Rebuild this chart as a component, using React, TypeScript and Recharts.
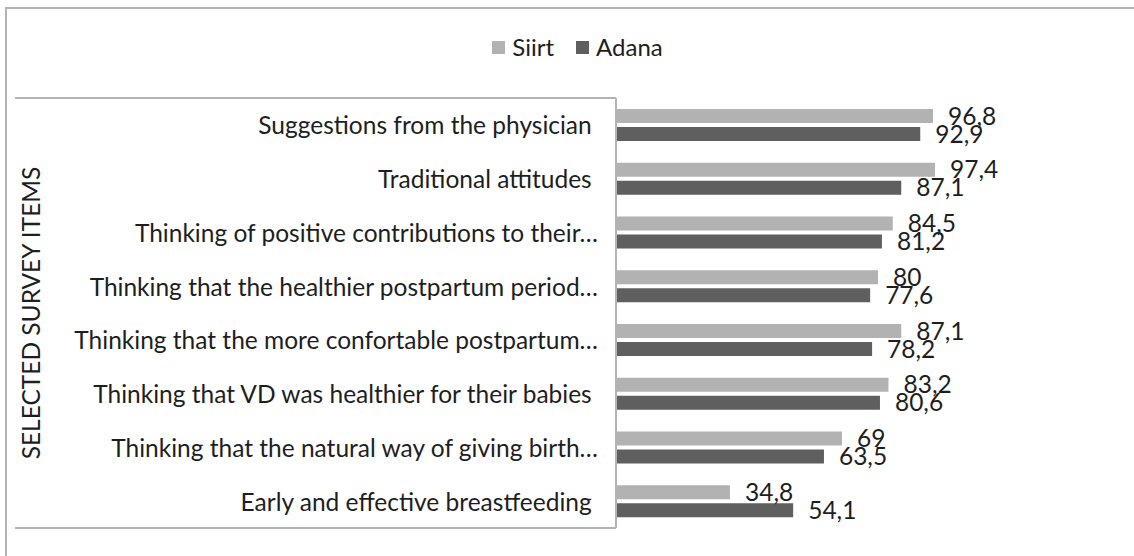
import React from 'react';
import { BarChart, Bar, XAxis, YAxis, Legend, LabelList } from 'recharts';

const categories = [
  'Suggestions from the physician ',
  'Traditional attitudes ',
  'Thinking of positive contributions to their…',
  'Thinking that the healthier postpartum period…',
  'Thinking that the more confortable postpartum…',
  'Thinking that VD was healthier for their babies ',
  'Thinking that the natural way of giving birth…',
  'Early and effective breastfeeding ',
];
const siirt = [96.8, 97.4, 84.5, 80, 87.1, 83.2, 69, 34.8];
const adana = [92.9, 87.1, 81.2, 77.6, 78.2, 80.6, 63.5, 54.1];
const seriesNames = ['Siirt', 'Adana'];
const axisTitle = 'SELECTED SURVEY ITEMS';

const data = categories.map((c, i) => ({ item: c, siirt: siirt[i], adana: adana[i] }));

const FONT = 'Lato, "Open Sans", sans-serif';
const FS = 24.5;
const fmt = (v: any) => String(v).replace('.', ',');

const CatTick = (props: any) => {
  const { x, y, payload } = props;
  return (
    <text x={x} y={y} textAnchor="end" dominantBaseline="central" fontFamily={FONT} fontSize={FS} fill="#1e1e1e" style={{ whiteSpace: 'pre' }}>
      {payload.value}
    </text>
  );
};

const LegendContent = (props: any) => {
  const items = [...(props.payload || [])].sort(
    (a: any, b: any) => seriesNames.indexOf(a.value) - seriesNames.indexOf(b.value)
  );
  return (
    <div style={{ display: 'flex', justifyContent: 'center', alignItems: 'center', fontFamily: FONT, fontSize: 24, lineHeight: '30px', color: '#1e1e1e' }}>
      {items.map((it: any, i: number) => (
        <div key={it.value} style={{ display: 'flex', alignItems: 'center', marginRight: i < items.length - 1 ? 22 : 0 }}>
          <span style={{ display: 'inline-block', width: 13, height: 13, background: it.color, marginRight: 7 }} />
          <span>{it.value}</span>
        </div>
      ))}
    </div>
  );
};

export default function App() {
  const W = 1134;
  const H = 556;
  const margin = { top: 98, right: 125, bottom: 28, left: 0 };
  const axisX = 616;
  return (
    <div style={{ position: 'fixed', left: 0, top: 0, width: W, height: H, background: '#fff', overflow: 'hidden' }}>
      <div style={{ position: 'absolute', left: 5, top: 7, width: 1300, height: 700, borderLeft: '2px solid #b3b3b3', borderTop: '2px solid #b3b3b3', boxSizing: 'border-box' }} />
      <div style={{ position: 'absolute', left: 0, top: 0 }}>
        <BarChart width={W} height={H} data={data} layout="vertical" margin={margin} barSize={14} barGap={4}>
          <XAxis type="number" domain={[0, 120]} hide />
          <YAxis
            type="category"
            dataKey="item"
            width={axisX}
            tickLine={false}
            tickSize={0}
            tickMargin={18}
            axisLine={{ stroke: '#b3b3b3', strokeWidth: 2 }}
            tick={<CatTick />}
            interval={0}
          />
          <Legend
            verticalAlign="middle"
            align="center"
            content={<LegendContent />}
            wrapperStyle={{ top: 32, left: 0, width: 1155 }}
          />
          <Bar dataKey="siirt" name={seriesNames[0]} fill="#b2b2b2" isAnimationActive={false}>
            <LabelList dataKey="siirt" position="right" offset={15} formatter={fmt} style={{ fontFamily: FONT, fontSize: FS, fill: '#1e1e1e' }} />
          </Bar>
          <Bar dataKey="adana" name={seriesNames[1]} fill="#5f5f5f" isAnimationActive={false}>
            <LabelList dataKey="adana" position="right" offset={15} formatter={fmt} style={{ fontFamily: FONT, fontSize: FS, fill: '#1e1e1e' }} />
          </Bar>
        </BarChart>
      </div>
      <svg style={{ position: 'absolute', left: 0, top: 0 }} width={W} height={H} pointerEvents="none">
        <line x1={15} x2={axisX} y1={margin.top} y2={margin.top} stroke="#b3b3b3" strokeWidth={2} />
        <line x1={15} x2={axisX} y1={H - margin.bottom} y2={H - margin.bottom} stroke="#b3b3b3" strokeWidth={2} />
        <text transform={`translate(30, ${(margin.top + H - margin.bottom) / 2}) rotate(-90)`} textAnchor="middle" dominantBaseline="central" fontFamily={FONT} fontSize={FS} fill="#1e1e1e">
          {axisTitle}
        </text>
      </svg>
    </div>
  );
}
